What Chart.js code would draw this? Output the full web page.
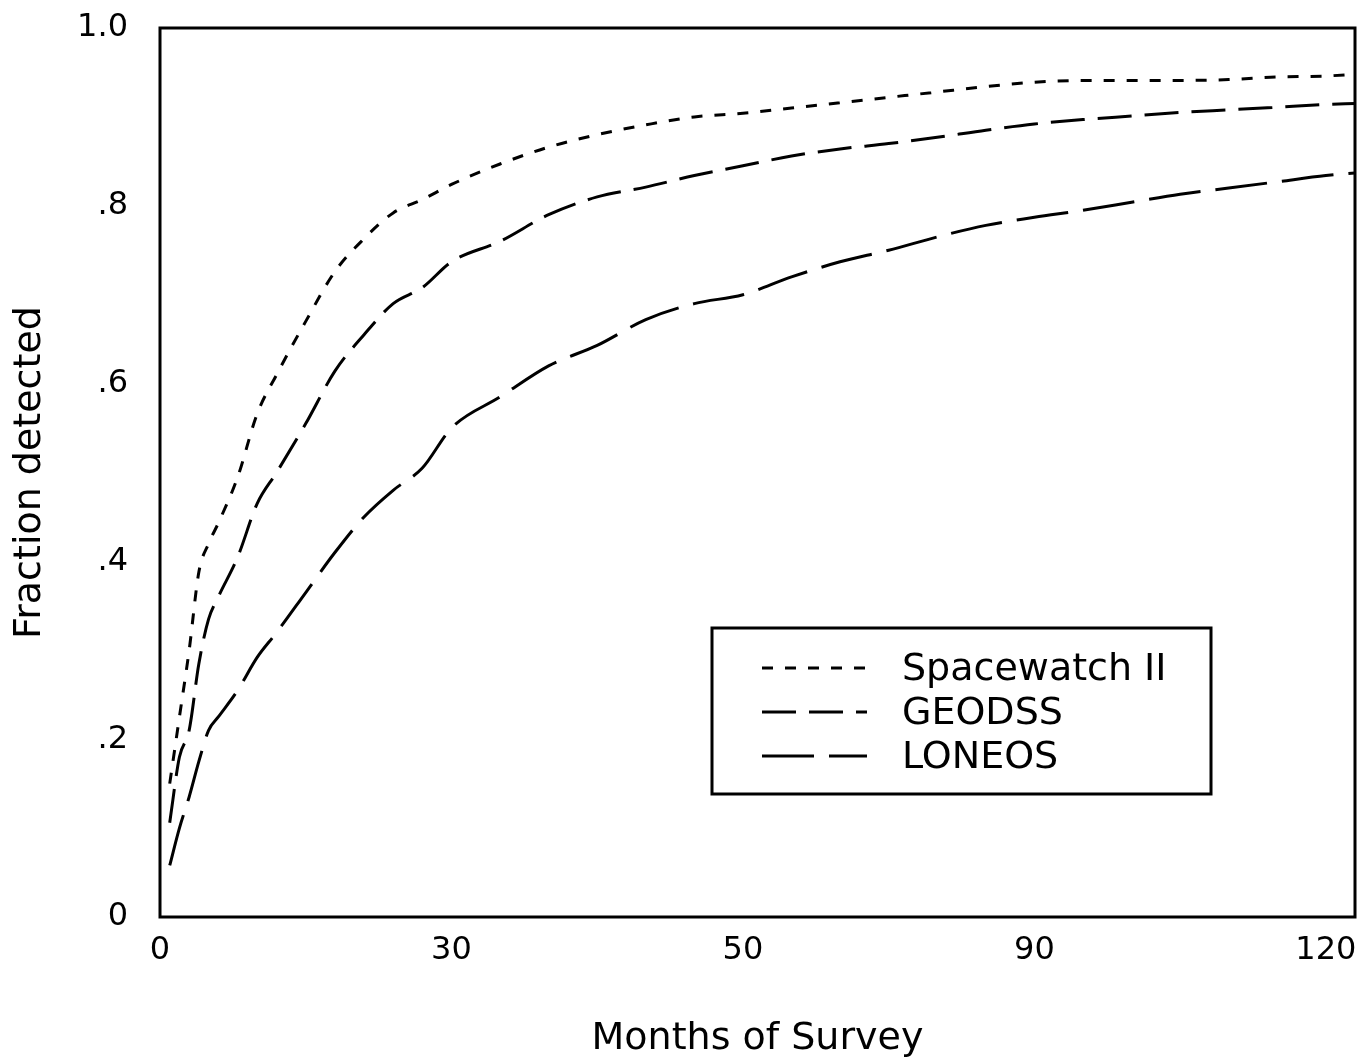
<!DOCTYPE html>
<html>
<head>
<meta charset="utf-8">
<script src="https://cdn.jsdelivr.net/npm/chart.js@4/dist/chart.umd.min.js"></script>
<style>
  html, body { margin: 0; padding: 0; background: #fff; }
  #wrap { width: 1361px; height: 1064px; }
</style>
</head>
<body>
<div id="wrap"><canvas id="myChart" width="1361" height="1064"></canvas></div>
<script>
const months = [1, 2, 3, 4, 5, 6, 8, 10, 12, 15, 18, 21, 24, 27, 30, 35, 40, 45, 50, 55, 60,
  65, 70, 75, 80, 85, 90, 95, 100, 105, 110, 115, 120, 123];
const spacewatch = [0.15, 0.225, 0.30, 0.388, 0.42, 0.443, 0.495, 0.566, 0.61, 0.67, 0.726, 0.763,
  0.792, 0.807, 0.824, 0.847, 0.866, 0.88, 0.891, 0.90, 0.904, 0.91, 0.916, 0.922, 0.928, 0.934,
  0.939, 0.941, 0.941, 0.941, 0.942, 0.945, 0.946, 0.948];
const geodss = [0.106, 0.18, 0.21, 0.285, 0.335, 0.36, 0.405, 0.465, 0.50, 0.555, 0.614, 0.655,
  0.69, 0.708, 0.737, 0.76, 0.79, 0.81, 0.821, 0.834, 0.845, 0.856, 0.864, 0.87, 0.877, 0.885,
  0.892, 0.897, 0.901, 0.905, 0.908, 0.911, 0.914, 0.915];
const loneos = [0.058, 0.10, 0.135, 0.175, 0.21, 0.225, 0.255, 0.292, 0.32, 0.365, 0.41, 0.45,
  0.48, 0.505, 0.55, 0.585, 0.62, 0.643, 0.672, 0.69, 0.70, 0.72, 0.737, 0.75, 0.765, 0.778,
  0.787, 0.795, 0.804, 0.813, 0.82, 0.827, 0.834, 0.837];

const seriesNames = ["Spacewatch II", "GEODSS", "LONEOS"];
const xTickValues = [0, 30, 60, 90, 120];
const xTickText = ["0", "30", "50", "90", "120"];
const yTickValues = [0, 0.2, 0.4, 0.6, 0.8, 1.0];
const yTickText = ["0", ".2", ".4", ".6", ".8", "1.0"];

const FONT = "'DejaVu Sans', sans-serif";

function toPoints(values) {
  return months.map((m, i) => ({ x: m, y: values[i] }));
}

// white page under the plot
const background = {
  id: "background",
  beforeDraw(chart) {
    const c = chart.ctx;
    c.save();
    c.fillStyle = "#fff";
    c.fillRect(0, 0, chart.width, chart.height);
    c.restore();
  },
};

// closed frame round the plotting area
const frame = {
  id: "frame",
  afterDatasetsDraw(chart) {
    const { left, top, right, bottom } = chart.chartArea;
    const c = chart.ctx;
    c.save();
    c.strokeStyle = "#000";
    c.lineWidth = 3;
    c.strokeRect(left, top, right - left, bottom - top);
    c.restore();
  },
};

// boxed key with dashed line samples
const keyBox = {
  id: "keyBox",
  afterDraw(chart) {
    const c = chart.ctx;
    const bx = 712, by = 628, bw = 499, bh = 166;
    c.save();
    c.fillStyle = "#fff";
    c.fillRect(bx, by, bw, bh);
    c.strokeStyle = "#000";
    c.lineWidth = 3;
    c.strokeRect(bx, by, bw, bh);
    c.font = "38px " + FONT;
    c.fillStyle = "#000";
    c.textBaseline = "middle";
    chart.data.datasets.forEach((ds, i) => {
      const y = by + 40 + i * 44;
      c.beginPath();
      c.setLineDash(ds.borderDash);
      c.lineWidth = 3;
      c.moveTo(bx + 50, y);
      c.lineTo(bx + 155, y);
      c.stroke();
      c.setLineDash([]);
      c.fillText(ds.label, bx + 190, y + 2);
    });
    c.restore();
  },
};

const ctx = document.getElementById("myChart");
new Chart(ctx, {
  type: "line",
  data: {
    datasets: [
      { label: seriesNames[0], data: toPoints(spacewatch), borderDash: [11, 12] },
      { label: seriesNames[1], data: toPoints(geodss), borderDash: [34, 13] },
      { label: seriesNames[2], data: toPoints(loneos), borderDash: [52, 15] },
    ],
  },
  options: {
    responsive: false,
    animation: false,
    layout: { padding: { top: 28, right: 6, left: 0, bottom: 0 } },
    plugins: {
      legend: { display: false },
      tooltip: { enabled: false },
    },
    elements: {
      point: { radius: 0 },
      line: {
        borderColor: "#000",
        borderWidth: 3,
        tension: 0.3,
        cubicInterpolationMode: "monotone",
        fill: false,
      },
    },
    scales: {
      x: {
        type: "linear",
        min: 0,
        max: 123,
        grid: { display: false, drawTicks: false },
        border: { display: false },
        afterBuildTicks: (s) => { s.ticks = xTickValues.map((v) => ({ value: v })); },
        afterFit: (s) => {
          s.height = 147;
          s.paddingLeft = 0;
          s.paddingRight = 0;
        },
        ticks: {
          padding: 14,
          color: "#000",
          maxRotation: 0,
          font: { family: FONT, size: 32 },
          callback: (v) => xTickText[xTickValues.indexOf(v)],
        },
        title: {
          display: true,
          text: "Months of Survey",
          color: "#000",
          font: { family: FONT, size: 38 },
          padding: { top: 0, bottom: 2 },
        },
      },
      y: {
        min: 0,
        max: 1,
        grid: { display: false, drawTicks: false },
        border: { display: false },
        afterBuildTicks: (s) => { s.ticks = yTickValues.map((v) => ({ value: v })); },
        afterFit: (s) => {
          s.width = 160;
          s.paddingTop = 0;
          s.paddingBottom = 0;
        },
        ticks: {
          padding: 32,
          color: "#000",
          font: { family: FONT, size: 32 },
          callback: (v) => yTickText[yTickValues.indexOf(v)],
        },
        title: {
          display: true,
          text: "Fraction detected",
          color: "#000",
          font: { family: FONT, size: 38 },
          padding: { top: 7, bottom: 0 },
        },
      },
    },
  },
  plugins: [background, frame, keyBox],
});
</script>
</body>
</html>
